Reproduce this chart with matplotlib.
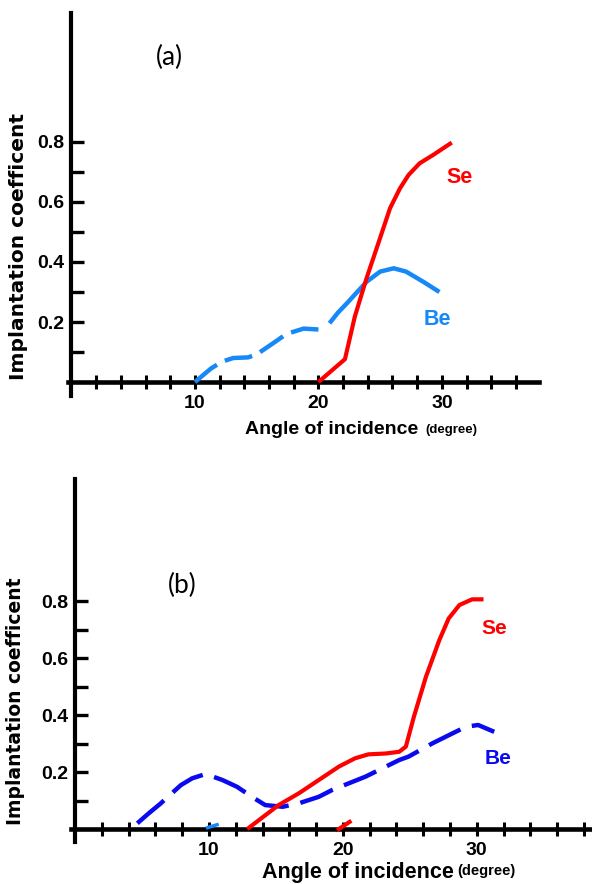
import matplotlib
matplotlib.use('Agg')
import matplotlib.pyplot as plt

# ---- panel (a) data ----
se_a_x = [20.0, 22.15, 22.95, 23.9, 24.85, 25.8, 26.6, 27.3, 28.2, 29.3, 30.8]
se_a_y = [0.0, 0.076, 0.218, 0.346, 0.462, 0.579, 0.645, 0.69, 0.729, 0.757, 0.798]
be_a_dash_x = [10.0, 11.3, 12.2, 13.1, 14.3, 15.0, 16.5, 17.4, 18.8, 20.4]
be_a_dash_y = [0.0, 0.045, 0.068, 0.080, 0.082, 0.092, 0.134, 0.160, 0.178, 0.174]
be_a_solid_x = [20.9, 21.6, 22.3, 23.9, 25.0, 26.1, 27.1, 28.5, 29.8]
be_a_solid_y = [0.196, 0.232, 0.262, 0.334, 0.368, 0.379, 0.368, 0.334, 0.300]

# ---- panel (b) data ----
se_b_x = [12.86, 15.2, 16.7, 18.2, 19.7, 20.9, 21.9, 23.2, 24.2, 24.7, 25.3, 26.2,
          27.2, 27.9, 28.7, 29.65, 30.5]
se_b_y = [0.0, 0.084, 0.125, 0.172, 0.219, 0.248, 0.262, 0.265, 0.271, 0.289, 0.394,
          0.534, 0.663, 0.739, 0.786, 0.806, 0.806]
be_b_x = [4.65, 5.5, 6.4, 7.9, 8.75, 9.75, 11.0, 12.1, 13.2, 14.2, 15.5, 16.7, 18.2,
          19.2, 21.7, 24.2, 24.9, 26.7, 28.2, 29.2, 30.1, 31.3]
be_b_y = [0.02, 0.055, 0.09, 0.154, 0.178, 0.193, 0.172, 0.148, 0.113, 0.084, 0.078,
          0.09, 0.113, 0.137, 0.184, 0.242, 0.254, 0.301, 0.336, 0.359, 0.365, 0.341]
stub_red_x = [19.7, 20.5]
stub_red_y = [0.0, 0.025]
stub_blue_x = [9.9, 10.6]
stub_blue_y = [0.005, 0.015]

yticks = [0.2, 0.4, 0.6, 0.8]
yminor = [0.1, 0.3, 0.5, 0.7]

RED = '#ff0000'
LBLUE = '#1688f8'
DBLUE = '#0a0af0'
FONT = 'Liberation Sans'

fig = plt.figure(figsize=(5.92, 8.84), dpi=100)


def setup(ax, xmax, xtick_max, tsize):
    ax.set_xlim(-0.3, xmax)
    ax.set_ylim(-0.045, 1.23)
    ax.spines['top'].set_visible(False)
    ax.spines['right'].set_visible(False)
    ax.spines['left'].set_position(('data', 0))
    ax.spines['bottom'].set_position(('data', 0))
    ax.spines['left'].set_linewidth(3)
    ax.spines['bottom'].set_linewidth(3.3)
    ax.patch.set_alpha(0)
    ax.set_yticks(yticks, labels=['%.1f' % t for t in yticks], fontsize=tsize,
                  fontweight='bold', family=FONT)
    ax.set_yticks(yminor, minor=True)
    ax.tick_params(axis='y', which='both', direction='in', length=9.5, width=2.4, pad=5)
    xt = list(range(2, xtick_max + 1, 2))
    ax.set_xticks(xt, labels=[str(t) if t % 10 == 0 else '' for t in xt],
                  fontsize=tsize, fontweight='bold', family=FONT)
    ax.tick_params(axis='x', direction='inout', length=9.5, width=2.2, pad=4.5)


# panel (a)
ax1 = fig.add_axes([0.1145, 0.5526, 0.7956, 0.4327])
setup(ax1, 37.85, 36, 14)
ax1.plot(be_a_dash_x, be_a_dash_y, color=LBLUE, lw=3.2, dashes=(6.3, 2.0),
         dash_capstyle='butt', zorder=3)
ax1.plot(be_a_solid_x, be_a_solid_y, color=LBLUE, lw=3.2, solid_capstyle='butt', zorder=3)
ax1.plot(se_a_x, se_a_y, color=RED, lw=3.0, solid_capstyle='butt', zorder=4)
ax1.text(31.4, 0.683, 'Se', color=RED, fontsize=15.5, fontweight='bold',
         family=FONT, ha='center', va='center')
ax1.text(29.6, 0.21, 'Be', color=LBLUE, fontsize=15.5, fontweight='bold',
         family=FONT, ha='center', va='center')
ax1.text(7.97, 1.083, '(a)', fontsize=19, family='Lato', ha='center', va='center')

# panel (b)
ax2 = fig.add_axes([0.12, 0.0477, 0.88, 0.411])
setup(ax2, 38.6, 38, 14)
ax2.plot(be_b_x, be_b_y, color=DBLUE, lw=3.2, dashes=(7.9, 2.7),
         dash_capstyle='butt', zorder=3)
ax2.plot(se_b_x, se_b_y, color=RED, lw=3.0, solid_capstyle='butt', zorder=4)
ax2.plot(stub_red_x, stub_red_y, color=RED, lw=3.0, zorder=4)
ax2.plot(stub_blue_x, stub_blue_y, color=LBLUE, lw=2.5, zorder=4)
ax2.text(31.3, 0.705, 'Se', color=RED, fontsize=15, fontweight='bold',
         family=FONT, ha='center', va='center')
ax2.text(31.6, 0.249, 'Be', color=DBLUE, fontsize=15, fontweight='bold',
         family=FONT, ha='center', va='center')
ax2.text(8.0, 0.856, '(b)', fontsize=19, family='Lato', ha='center', va='center')

# axis titles
fig.text(18.5 / 592, 1 - 247 / 884, 'Implantation coefficent', rotation=90,
         fontsize=14.5, fontweight='bold', family='DejaVu Sans', ha='center', va='center')
fig.text(16 / 592, 1 - 701 / 884, 'Implantation coefficent', rotation=90,
         fontsize=13.5, fontweight='bold', family='DejaVu Sans', ha='center', va='center')
fig.text(245 / 592, 1 - 434 / 884, 'Angle of incidence', fontsize=14, fontweight='bold',
         family=FONT, ha='left', va='baseline')
fig.text(425 / 592, 1 - 433 / 884, '(degree)', fontsize=9.5, fontweight='bold',
         family=FONT, ha='left', va='baseline')
fig.text(262 / 592, 1 - 878 / 884, 'Angle of incidence', fontsize=15.5, fontweight='bold',
         family=FONT, ha='left', va='baseline')
fig.text(457 / 592, 1 - 875 / 884, '(degree)', fontsize=10.5, fontweight='bold',
         family=FONT, ha='left', va='baseline')

fig.savefig('out.png', dpi=100)
